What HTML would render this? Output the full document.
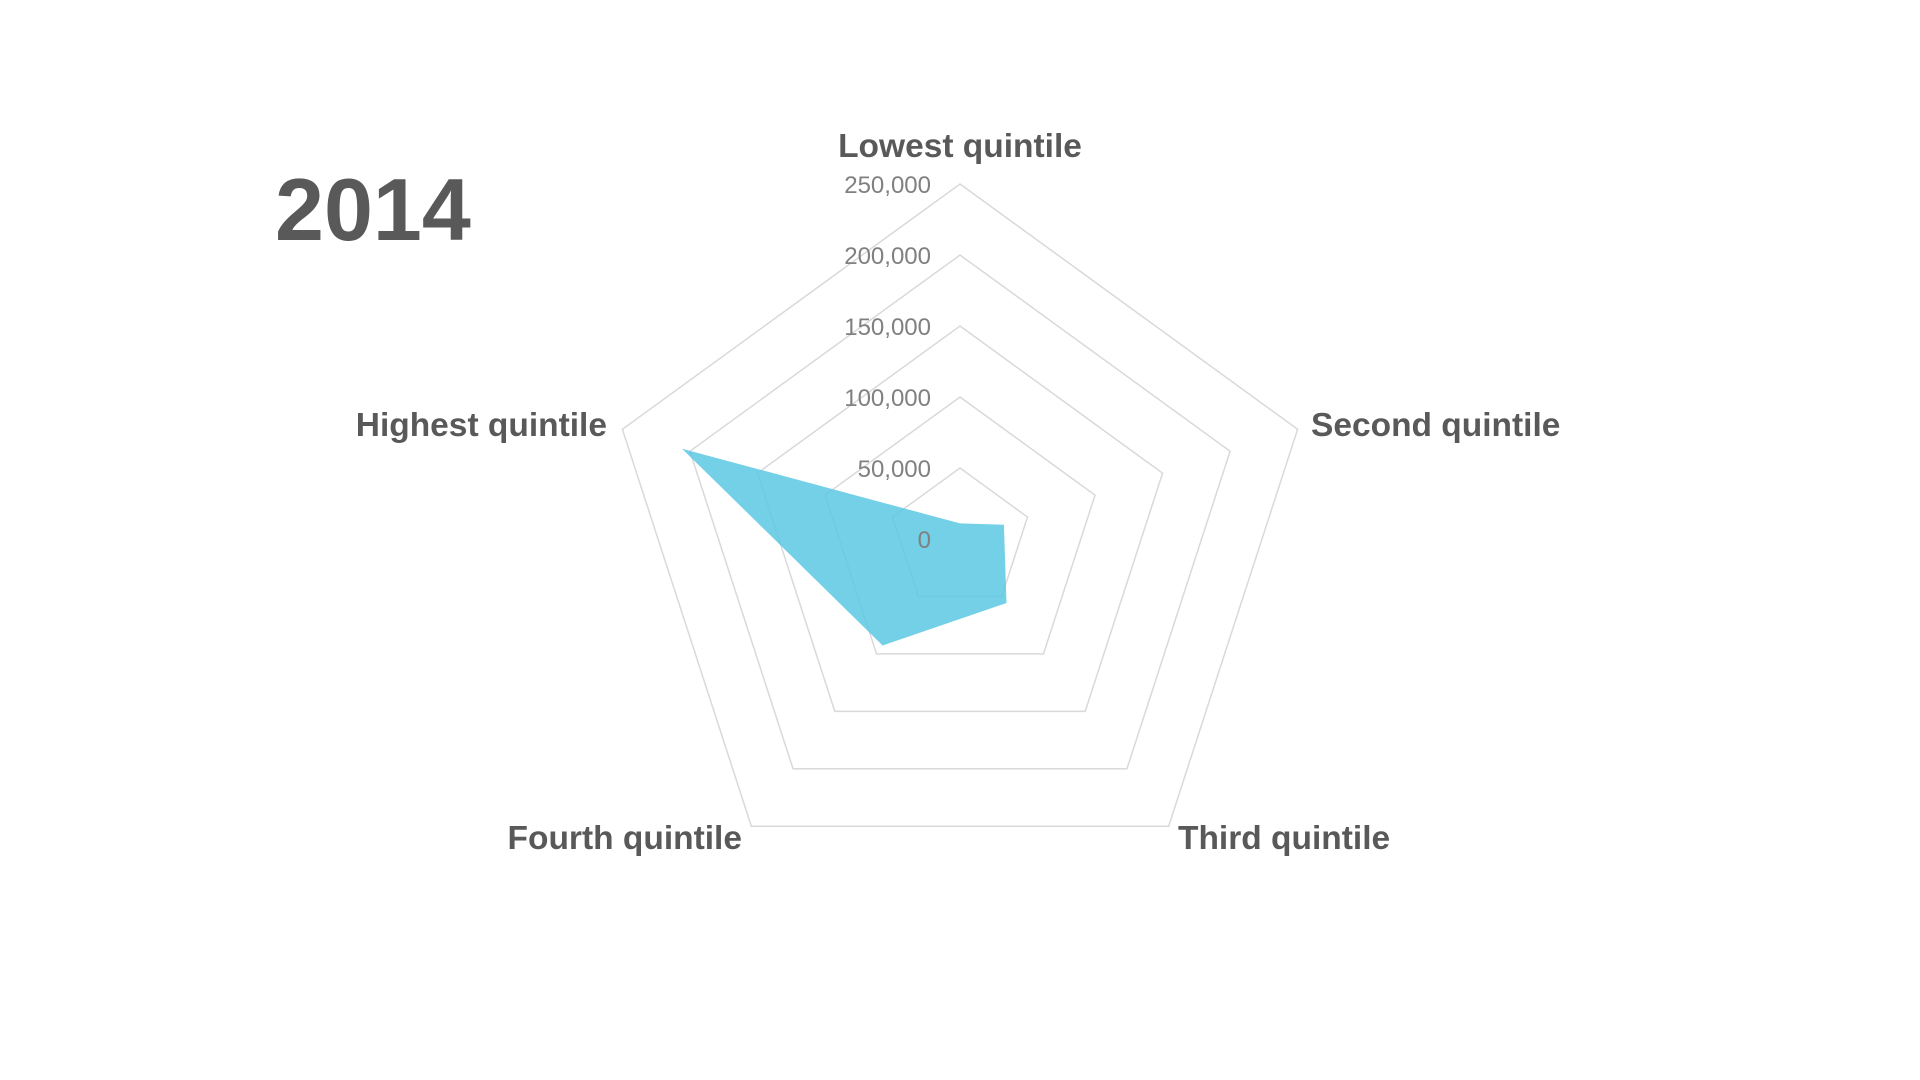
<!DOCTYPE html>
<html><head><meta charset="utf-8">
<style>
html,body{margin:0;padding:0;background:#fff;width:1920px;height:1080px;overflow:hidden}
svg{display:block}
.cat{font-family:"Liberation Sans",sans-serif;font-weight:bold;font-size:33.5px;fill:#595959}
.tick{font-family:"Liberation Sans",sans-serif;font-size:24px;fill:#808080}
</style></head>
<body>
<svg id="chart" width="1920" height="1080">
<text x="275" y="240" font-family="Liberation Sans, sans-serif" font-weight="bold" font-size="88" fill="#595959">2014</text>
<g id="grid"></g>
<g id="series"></g>
<g id="ticks"></g>
<g id="cats"></g>
</svg>
<script>
const categories = ["Lowest quintile","Second quintile","Third quintile","Fourth quintile","Highest quintile"];
const values = [11000, 32500, 55700, 92700, 205800];
const tickValues = [0, 50000, 100000, 150000, 200000, 250000];
const tickLabels = ["0","50,000","100,000","150,000","200,000","250,000"];

const NS = "http://www.w3.org/2000/svg";
const cx = 960, cy = 539, R = 355, maxV = 250000;
function ang(i){ return -Math.PI/2 + i*2*Math.PI/categories.length; }
function pt(i, v){ const r = v/maxV*R; return [cx + r*Math.cos(ang(i)), cy + r*Math.sin(ang(i))]; }
function mk(tag, attrs){ const e = document.createElementNS(NS, tag); for (const k in attrs) e.setAttribute(k, attrs[k]); return e; }

const grid = document.getElementById('grid');
tickValues.forEach((t, k) => {
  if (t === 0) return;
  const pts = categories.map((c, i) => pt(i, t).join(',')).join(' ');
  const p = mk('polygon', {points: pts, fill: 'none', stroke: '#d9d9d9', 'stroke-width': 1.5});
  
  
  grid.appendChild(p);
});

const series = document.getElementById('series');
const area = mk('polygon', {points: values.map((v, i) => pt(i, v).join(',')).join(' '), fill: '#5bc8e2', 'fill-opacity': 0.85});


series.appendChild(area);

const ticks = document.getElementById('ticks');
tickValues.forEach((t, k) => {
  const y = cy - t/maxV*R;
  const tx = mk('text', {x: 931, y: y + 9, 'text-anchor': 'end', class: 'tick'});
  tx.textContent = tickLabels[k];
  
  
  ticks.appendChild(tx);
});

const cats = document.getElementById('cats');
const labelPos = [[960,157,'middle'],[1311,436,'start'],[1178,849,'start'],[742,849,'end'],[607,436,'end']];
categories.forEach((c, i) => {
  const lp = labelPos[i];
  const tx = mk('text', {x: lp[0], y: lp[1], 'text-anchor': lp[2], class: 'cat'});
  tx.textContent = c;
  
  
  cats.appendChild(tx);
});
</script>
</body></html>
